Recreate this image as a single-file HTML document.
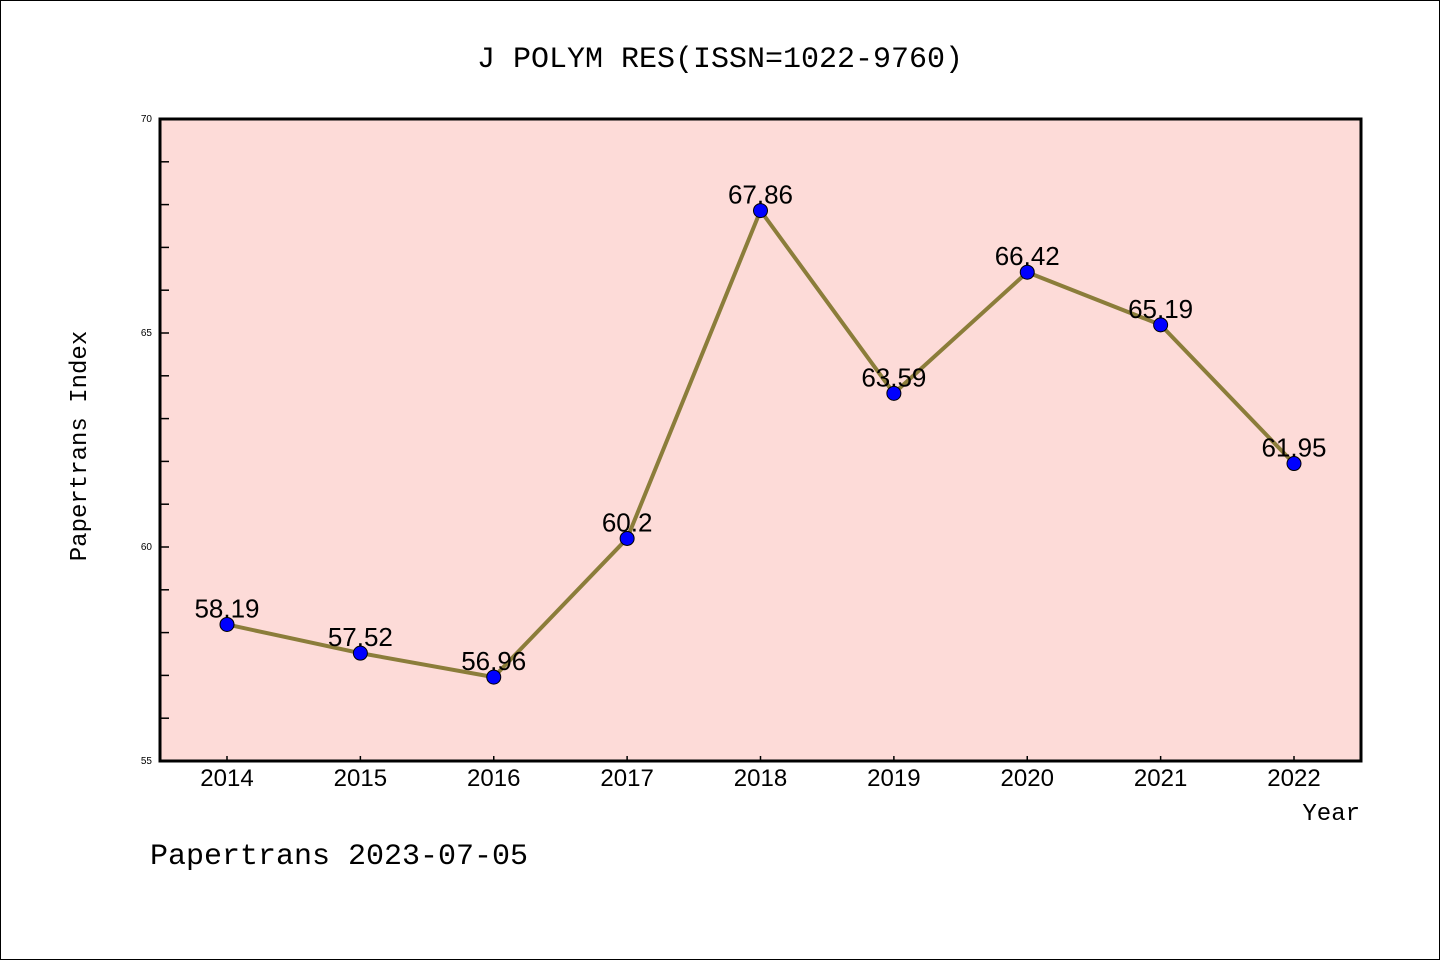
<!DOCTYPE html>
<html><head><meta charset="utf-8"><style>
html,body{margin:0;padding:0;background:#fff}
svg{display:block;font-family:"Liberation Sans","WenQuanYi Zen Hei",sans-serif}
</style></head><body>
<svg id="chart" width="1440" height="960" viewBox="0 0 1440 960">
<rect x="0.5" y="0.5" width="1439" height="959" fill="#fff" stroke="#000"/>
<text x="720" y="67" text-anchor="middle" font-size="30" font-family="'WenQuanYi Zen Hei','Liberation Mono',monospace">J POLYM RES(ISSN=1022-9760)</text>
<rect x="160" y="119" width="1201" height="642" fill="#fddbd8"/>
<g id="axes"></g>
<g id="series"></g>
<rect x="160" y="119" width="1201" height="642" fill="none" stroke="#000" stroke-width="3"/>
<text x="86" y="446" transform="rotate(-90 86 446)" text-anchor="middle" font-size="24" font-family="'WenQuanYi Zen Hei','Liberation Mono',monospace">Papertrans Index</text>
<text x="1360" y="820" text-anchor="end" font-size="24" font-family="'WenQuanYi Zen Hei','Liberation Mono',monospace">Year</text>
<text x="150" y="864" font-size="30" font-family="'WenQuanYi Zen Hei','Liberation Mono',monospace">Papertrans 2023-07-05</text>
</svg>
<script>
const years = ["2014","2015","2016","2017","2018","2019","2020","2021","2022"];
const values = [58.19,57.52,56.96,60.2,67.86,63.59,66.42,65.19,61.95];
const valueLabels = ["58.19","57.52","56.96","60.2","67.86","63.59","66.42","65.19","61.95"];
const yTickLabels = ["55","60","65","70"];
const yMin = 55, yMax = 70;
const NS = "http://www.w3.org/2000/svg";
function xs(i){ return 227 + i*(1294-227)/(years.length-1); }
function ys(v){ return 761 - (v-yMin)/(yMax-yMin)*642; }
function mk(t, a, p){ const e=document.createElementNS(NS,t); for(const k in a) e.setAttribute(k,a[k]); p.appendChild(e); return e; }
const axes = document.getElementById('axes');
const series = document.getElementById('series');
for(let v=yMin+1; v<yMax; v++){
  const t = mk('line',{x1:160,x2:169,y1:ys(v),y2:ys(v),stroke:'#000','stroke-width':1.5},axes);
  
  
}
yTickLabels.forEach(s=>{
  const t = mk('text',{x:152,y:ys(+s)+3,'text-anchor':'end','font-size':10},axes);
  t.textContent = s;
  
  
});
years.forEach((y,i)=>{
  const t = mk('line',{x1:xs(i),x2:xs(i),y1:756,y2:761,stroke:'#000','stroke-width':1.5},axes);
  
  
  const l = mk('text',{x:xs(i),y:786,'text-anchor':'middle','font-size':24},axes);
  l.textContent = y;
  
  
});
const pts = values.map((v,i)=>xs(i)+','+ys(v)).join(' ');
const line = mk('polyline',{points:pts,fill:'none',stroke:'#8b7d3a','stroke-width':4,'stroke-linejoin':'round'},series);


values.forEach((v,i)=>{
  const c = mk('circle',{cx:xs(i),cy:ys(v),r:7,fill:'#0000ff',stroke:'#000','stroke-width':1},series);
  
  
  const t = mk('text',{x:xs(i),y:ys(v)-7,'text-anchor':'middle','font-size':26},series);
  t.textContent = valueLabels[i];
  
  
});
</script>
</body></html>
